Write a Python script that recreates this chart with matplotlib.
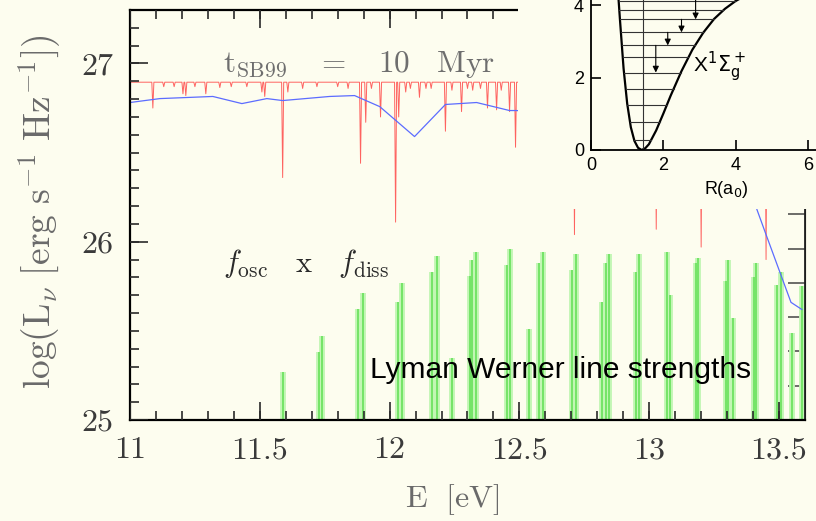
import numpy as np
import matplotlib.pyplot as plt
from matplotlib.patches import Rectangle

plt.rcParams['mathtext.fontset'] = 'cm'
plt.rcParams['axes.unicode_minus'] = False

# ---- data ----
# LW line strengths: energy [eV] and top of each bar (log units of the main axis)
lw_E = [11.588, 11.727, 11.738, 11.877, 11.896, 12.031, 12.046, 12.165, 12.181,
        12.242, 12.308, 12.319, 12.331, 12.454, 12.465, 12.535, 12.577, 12.592,
        12.704, 12.719, 12.819, 12.835, 12.846, 12.950, 12.962, 13.069, 13.081,
        13.181, 13.188, 13.296, 13.304, 13.323, 13.404, 13.412, 13.492, 13.508,
        13.550, 13.588]
lw_top = [25.27, 25.38, 25.47, 25.62, 25.71, 25.66, 25.77, 25.83, 25.92,
          25.35, 25.81, 25.90, 25.94, 25.87, 25.96, 25.51, 25.88, 25.94,
          25.84, 25.93, 25.66, 25.88, 25.93, 25.83, 25.93, 25.94, 25.70,
          25.88, 25.91, 25.78, 25.90, 25.57, 25.80, 25.88, 25.76, 25.83,
          25.49, 25.75]

# SB99 spectrum with H2 absorption (red): continuum level and absorption dips
red_base = 26.895
red_dip_E = [11.088, 11.13, 11.17, 11.204, 11.215, 11.25, 11.292, 11.346, 11.39,
             11.45, 11.508, 11.519, 11.588, 11.608, 11.665, 11.72, 11.80, 11.84,
             11.888, 11.908, 11.93, 11.965, 12.023, 12.035, 12.062, 12.08, 12.115,
             12.14, 12.16, 12.215, 12.24, 12.277, 12.30, 12.32, 12.35, 12.377,
             12.412, 12.43, 12.462, 12.485, 12.712, 13.027, 13.20, 13.45]
red_dip_L = [26.75, 26.87, 26.87, 26.83, 26.82, 26.87, 26.83, 26.865, 26.87,
             26.87, 26.84, 26.815, 26.36, 26.84, 26.86, 26.87, 26.87, 26.86,
             26.44, 26.67, 26.86, 26.70, 26.11, 26.70, 26.84, 26.86, 26.81,
             26.86, 26.86, 26.62, 26.85, 26.73, 26.86, 26.85, 26.86, 26.75,
             26.74, 26.85, 26.73, 26.53, 26.04, 26.07, 25.97, 25.90]

# unattenuated spectrum (blue)
blue_E = [11.000, 11.115, 11.319, 11.431, 11.527, 11.588, 11.769, 11.865, 11.962,
          12.096, 12.215, 12.335, 12.462, 12.488, 12.80, 13.20, 13.37, 13.415,
          13.450, 13.546, 13.588]
blue_L = [26.781, 26.803, 26.815, 26.775, 26.803, 26.792, 26.815, 26.820, 26.758,
          26.590, 26.770, 26.781, 26.736, 26.736, 26.71, 26.66, 26.40, 26.18,
          26.04, 25.66, 25.62]

xtick_vals = [11, 11.5, 12, 12.5, 13, 13.5]
xtick_labels = ['11', '11.5', '12', '12.5', '13', '13.5']
ytick_vals = [25, 26, 27]
ytick_labels = ['25', '26', '27']
xminor = np.arange(11.1, 13.6, 0.1)
yminor = np.arange(25.1, 27.3, 0.1)

# inset: H2 ground state potential and vibrational levels
pot_R = [0.75, 0.80, 0.90, 1.00, 1.10, 1.20, 1.30, 1.40, 1.50, 1.60, 1.80,
         2.00, 2.20, 2.50, 2.80, 3.10, 3.40, 3.70, 4.00, 4.40]
pot_E = [4.32, 3.60, 2.25, 1.28, 0.63, 0.25, 0.06, 0.00, 0.05, 0.16, 0.54,
         1.01, 1.50, 2.18, 2.77, 3.24, 3.62, 3.90, 4.12, 4.33]
vib_levels = [0.27, 0.77, 1.25, 1.69, 2.14, 2.56, 2.89, 3.25, 3.61, 3.86, 4.12]
arrow_R = [1.79, 2.12, 2.50, 2.89]
arrow_from = [2.89, 3.25, 3.61, 4.40]
arrow_to = [2.14, 2.89, 3.25, 3.61]

bg = '#fdfdef'
W, H = 816, 521
tick_c = '#2a2a2a'

fig = plt.figure(figsize=(8.16, 5.21), dpi=100, facecolor=bg)
ax = fig.add_axes([130 / W, 1 - 420 / H, 675 / W, 410 / H], facecolor=bg)

# green LW lines
ax.vlines(lw_E, 25, lw_top, color='#c2f6b4', lw=4.2, zorder=1.5)
ax.vlines(lw_E, 25, lw_top, color='#6ee362', lw=1.3, zorder=1.6)

# red attenuated spectrum
rE, rL = [11.0], [red_base]
for e, l in zip(red_dip_E, red_dip_L):
    rE += [e - 0.004, e, e + 0.004]
    rL += [red_base, l, red_base]
rE.append(13.6)
rL.append(red_base)
ax.plot(rE, rL, color='#ff3c3c', lw=0.7, alpha=0.8, zorder=1.8)
ax.plot(blue_E, blue_L, color='#5c6cff', lw=0.9, zorder=1.9)

ax.set_xlim(11, 13.6)
ax.set_ylim(25, 27.3)
ax.set_xticks(xtick_vals)
ax.set_xticklabels(xtick_labels)
ax.set_yticks(ytick_vals)
ax.set_yticklabels(ytick_labels)
ax.tick_params(axis='both', which='both', length=0, labelsize=23,
               labelcolor='#3a3a3a', pad=12)
for lab in ax.get_xticklabels() + ax.get_yticklabels():
    lab.set_fontfamily('cmr10')
for s in ['left', 'bottom', 'top']:
    ax.spines[s].set_linewidth(1.6)
    ax.spines[s].set_color('black')
ax.spines['right'].set_linewidth(1.3)
ax.spines['right'].set_color('#222222')

# inward tick marks at the tick positions (bottom, top, left)
xt = ax.get_xaxis_transform()
yt = ax.get_yaxis_transform()
ax.vlines(xtick_vals, 0, 0.044, transform=xt, color=tick_c, lw=1.2, zorder=2.6)
ax.vlines(xminor, 0, 0.022, transform=xt, color=tick_c, lw=1.2, zorder=2.6)
ax.vlines(xtick_vals, 1 - 0.044, 1, transform=xt, color=tick_c, lw=1.2, zorder=2.6)
ax.vlines(xminor, 1 - 0.022, 1, transform=xt, color=tick_c, lw=1.2, zorder=2.6)
ax.hlines(ytick_vals, 0, 0.027, transform=yt, color=tick_c, lw=1.2, zorder=2.6)
ax.hlines(yminor, 0, 0.0135, transform=yt, color=tick_c, lw=1.2, zorder=2.6)

# right-hand axis ticks belong to the line strength scale
sec = ax.secondary_yaxis('right', functions=(lambda y: (y - 25) * 5.2,
                                             lambda s: 25 + s / 5.2))
sec.set_yticks(range(0, 12))
sec.tick_params(direction='in', length=12, width=1.1, color='#444444',
                labelright=False)

fig.text(40 / W, 1 - 212 / H,
         r'$\mathrm{log(L_{\nu}\ [erg\ s^{-1}\ Hz^{-1}])}$',
         rotation=90, ha='center', va='center', fontsize=27, color='#6a6a6a')
fig.text(452 / W, 1 - 500 / H, r'$\mathrm{E\ \ [eV]}$', ha='center', va='center',
         fontsize=23, color='#6a6a6a')

ax.text(11.36, 26.955, r'$\mathrm{t_{SB99}\ \ \ =\ \ \ 10\ \ \ Myr}$', fontsize=22.5,
        color='#6e6e6e', ha='left', va='baseline', zorder=5)
ax.text(11.36, 25.83, r'$f_{\rm osc}\ \ \ \mathrm{x}\ \ \ f_{\rm diss}$', fontsize=22,
        color='#2a2a2a', ha='left', va='baseline', zorder=5)
ax.text(11.923, 25.236, 'Lyman Werner line strengths', fontsize=21.5,
        family=['Liberation Sans', 'DejaVu Sans'], color='black',
        ha='left', va='baseline', zorder=5)

# inset panel covering the upper right corner
fig.add_artist(Rectangle((518 / W, 1 - 209 / H), (W - 518) / W, 209 / H,
                         transform=fig.transFigure, facecolor=bg,
                         edgecolor='none', zorder=1))

ax_in = fig.add_axes([591 / W, 1 - 150 / H, 7 * 36.2 / W, 4.5 * 36.2 / H],
                     facecolor='none', zorder=2)
ax_in.plot(pot_R, pot_E, color='black', lw=1.6)
iE = int(np.argmin(pot_E))
left_R, left_E = pot_R[:iE + 1][::-1], pot_E[:iE + 1][::-1]
right_R, right_E = pot_R[iE:], pot_E[iE:]
for lv in vib_levels:
    r0 = np.interp(lv, left_E, left_R)
    r1 = np.interp(lv, right_E, right_R)
    ax_in.plot([r0, r1], [lv, lv], color='#333333', lw=0.8)
ax_in.plot([pot_R[iE] + 0.05, pot_R[iE] + 0.05], [0, 4.5], color='#333333', lw=0.8)
for r, e0, e1 in zip(arrow_R, arrow_from, arrow_to):
    ax_in.annotate('', xy=(r, e1), xytext=(r, e0),
                   arrowprops=dict(arrowstyle='-|>', lw=0.8, color='black',
                                   mutation_scale=9, shrinkA=0, shrinkB=0))
ax_in.text(2.82, 2.3, r'X$^1\Sigma_\mathrm{g}^+$', fontsize=15,
           math_fontfamily='dejavusans',
           family=['Liberation Sans', 'DejaVu Sans'], ha='left', va='center')
ax_in.text(3.75, -1.1, r'R(a$_0$)', fontsize=13, math_fontfamily='dejavusans',
           family=['Liberation Sans', 'DejaVu Sans'], ha='center', va='center',
           clip_on=False)
ax_in.set_xlim(0, 7)
ax_in.set_ylim(0, 4.5)
ax_in.set_xticks([0, 2, 4, 6])
ax_in.set_yticks([0, 2, 4])
ax_in.tick_params(direction='in', length=7, width=1.2, labelsize=13, pad=5)
for lab in ax_in.get_xticklabels() + ax_in.get_yticklabels():
    lab.set_fontfamily(['Liberation Sans', 'DejaVu Sans'])
ax_in.spines['top'].set_visible(False)
ax_in.spines['right'].set_visible(False)
ax_in.spines['left'].set_linewidth(1.3)
ax_in.spines['bottom'].set_linewidth(1.3)

fig.savefig('out.png', dpi=100, facecolor=bg)
